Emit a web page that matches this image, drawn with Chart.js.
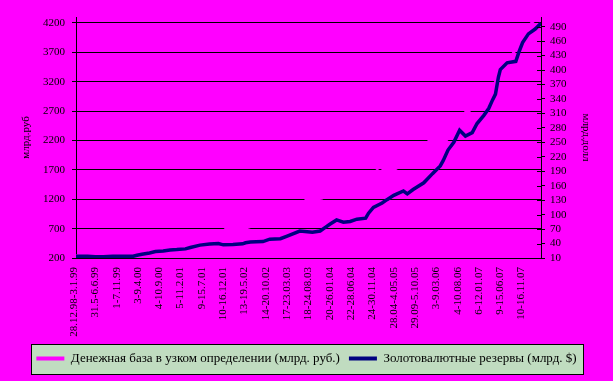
<!DOCTYPE html>
<html><head><meta charset="utf-8">
<script src="https://cdn.jsdelivr.net/npm/chart.js@4/dist/chart.umd.min.js"></script>
<style>html,body{margin:0;padding:0;background:#FF00FF;}canvas{display:block;}</style>
</head><body>
<canvas id="c" width="613" height="381"></canvas>
<script>
// category tick labels (one every 22 weeks) and their week positions
const tickLabels = ["28.12.98-3.1.99","31.5-6.6.99","1-7.11.99","3-9.4.00","4-10.9.00","5-11.2.01","9-15.7.01","10-16.12.01","13-19.5.02","14-20.10.02","17-23.03.03","18-24.08.03","20-26.01.04","22-28.06.04","24-30.11.04","28.04-4.05.05","29.09-5.10.05","3-9.03.06","4-10.08.06","6-12.01.07","9-15.06.07","10-16.11.07"];
const tickWeeks = [0,22,44,66,88,110,132,154,176,198,220,242,264,286,308,330,352,374,396,418,440,462];
const leftTicks = [200,700,1200,1700,2200,2700,3200,3700,4200];
const rightTicks = [10,40,70,100,130,160,190,220,250,280,310,340,370,400,430,460,490];

// Денежная база (млрд. руб.) — week index / value
const baseWeeks = [0,10,22,35,48,52,60,75,88,100,104,107,120,132,145,152,156,159,163,167,171,176,185,198,207,210,222,232,238,242,246,250,254,260,262,265,275,290,302,311,314,318,322,326,330,340,352,362,366,370,374,378,383,392,400,403,406,410,418,420,428,436,445,452,460,468,472,480];
const baseValues = [240,235,245,260,290,300,320,370,410,460,490,450,500,560,610,650,715,685,695,708,694,712,760,830,920,870,980,1120,1190,1212,1194,1208,1218,1300,1340,1270,1360,1460,1570,1690,1660,1708,1693,1705,1720,1820,1980,2160,2205,2192,2208,2195,2215,2450,2640,2695,2708,2760,2980,2920,3080,3260,3530,3700,3900,4150,4230,4280];

// Золотовалютные резервы (млрд. $) — week index / value
const resWeeks = [0,12,20,28,38,59,63,68,76,82,90,97,104,113,118,128,138,147,152,162,172,175,180,186,193,200,211,218,231,244,252,257,262,269,276,283,290,299,302,307,316,321,328,338,342,348,359,368,376,379,384,390,396,402,409,414,421,426,430,433,436,438,445,454,457,461,467,474,480];
const resValues = [13.5,13.6,12.8,12.8,13.5,13.5,15.6,17.8,20.5,23.3,24.7,26.8,27.5,28.9,31.7,36.7,38.8,40,37.3,38,39.4,41.5,43,43.6,44,49,50,55.6,66,63.3,66,73,80,89,84.3,85.7,90.5,92.7,103,115,124,131,140,149,143,152,166,185,201,212,234,250,275,263,270,289,306,320,338,350,385,401,415,418,436,457,475,485,497];

const toXY = (xs, ys) => xs.map((x, i) => ({x: x, y: ys[i]}));

const SERIF = "'Liberation Serif','Times New Roman',serif";

const deco = {
  id: 'deco',
  beforeDraw(chart) {
    const ctx = chart.ctx;
    ctx.save();
    ctx.fillStyle = '#FF00FF';
    ctx.fillRect(0, 0, chart.width, chart.height);
    const lg = chart.legend;
    if (lg && lg.legendHitBoxes && lg.legendHitBoxes.length) {
      const hb = lg.legendHitBoxes;
      const l = hb[0].left - 5, r = hb[hb.length-1].left + hb[hb.length-1].width + 7;
      const cy = hb[0].top + hb[0].height / 2;
      ctx.fillStyle = '#C0DCC0';
      ctx.fillRect(Math.round(l)+0.5, Math.round(cy-15)+0.5, Math.round(r-l), 30);
      ctx.strokeStyle = '#000';
      ctx.lineWidth = 1;
      ctx.strokeRect(Math.round(l)+0.5, Math.round(cy-15)+0.5, Math.round(r-l), 30);
    }
    ctx.restore();
  },
  afterDraw(chart) {
    const s = chart.scales.y2, ctx = chart.ctx;
    ctx.save();
    ctx.strokeStyle = '#000'; ctx.lineWidth = 1;
    s.ticks.forEach(t => {
      const y = Math.round(s.getPixelForValue(t.value)) + 0.5;
      ctx.beginPath(); ctx.moveTo(s.left - 4, y); ctx.lineTo(s.left, y); ctx.stroke();
    });
    ctx.restore();
  }
};

new Chart(document.getElementById('c'), {
  type: 'line',
  data: {
    datasets: [
      {label: 'Денежная база в узком определении (млрд. руб.)', data: toXY(baseWeeks, baseValues), yAxisID: 'y',
       borderColor: '#FF00FF', backgroundColor: '#FF00FF', borderWidth: 3, pointRadius: 0, tension: 0, order: 1},
      {label: 'Золотовалютные резервы (млрд. $)', data: toXY(resWeeks, resValues), yAxisID: 'y2',
       borderColor: '#000080', backgroundColor: '#000080', borderWidth: 3.5, pointRadius: 0, tension: 0, order: 0}
    ]
  },
  options: {
    responsive: false, animation: false, devicePixelRatio: 1,
    layout: {padding: {top: 17, left: 0, right: 0, bottom: 6}},
    plugins: {
      tooltip: {enabled: false},
      legend: {
        position: 'bottom',
        labels: {
          font: {family: SERIF, size: 13}, color: '#000', boxWidth: 28, boxHeight: 4, padding: 9,
          sort: (a, b) => a.datasetIndex - b.datasetIndex,
          generateLabels(chart) {
            return chart.data.datasets.map((d, i) => ({
              text: d.label, fillStyle: d.borderColor, strokeStyle: d.borderColor, lineWidth: 0,
              datasetIndex: i, hidden: false, fontColor: '#000'
            }));
          }
        }
      }
    },
    scales: {
      x: {
        type: 'linear', min: 0, max: 480,
        afterBuildTicks: a => { a.ticks = tickWeeks.map(v => ({value: v})); },
        afterFit: a => { a.height = 85; },
        grid: {display: false, drawTicks: false},
        border: {display: true, color: '#000', width: 1},
        ticks: {
          autoSkip: false, maxRotation: 90, minRotation: 90, padding: 9, labelOffset: -2, color: '#000',
          font: {family: SERIF, size: 11},
          callback: (v) => { const i = tickWeeks.indexOf(v); return i >= 0 ? tickLabels[i] : ''; }
        }
      },
      y: {
        position: 'left', min: 200, max: 4300,
        afterBuildTicks: a => { a.ticks = leftTicks.map(v => ({value: v})); },
        afterFit: a => { a.width = 76; },
        grid: {color: '#000', lineWidth: 1, drawTicks: true, tickLength: 4},
        border: {display: true, color: '#000', width: 1},
        ticks: {autoSkip: false, color: '#000', padding: 7, font: {family: SERIF, size: 11}, callback: v => String(v)},
        title: {display: true, text: 'млрд.руб', color: '#000', font: {family: SERIF, size: 11}, padding: {top: 20, bottom: 0}}
      },
      y2: {
        position: 'right', min: 10, max: 510,
        afterBuildTicks: a => { a.ticks = rightTicks.map(v => ({value: v})); },
        afterFit: a => { a.width = 72; },
        grid: {drawOnChartArea: false, color: '#000', drawTicks: true, tickLength: 4},
        border: {display: true, color: '#000', width: 1},
        ticks: {autoSkip: false, color: '#000', padding: 5, font: {family: SERIF, size: 11}, callback: v => String(v)},
        title: {display: true, text: 'млрд.долл', color: '#000', font: {family: SERIF, size: 11}, padding: {top: 21, bottom: 0}}
      }
    }
  },
  plugins: [deco]
});
</script>
</body></html>
